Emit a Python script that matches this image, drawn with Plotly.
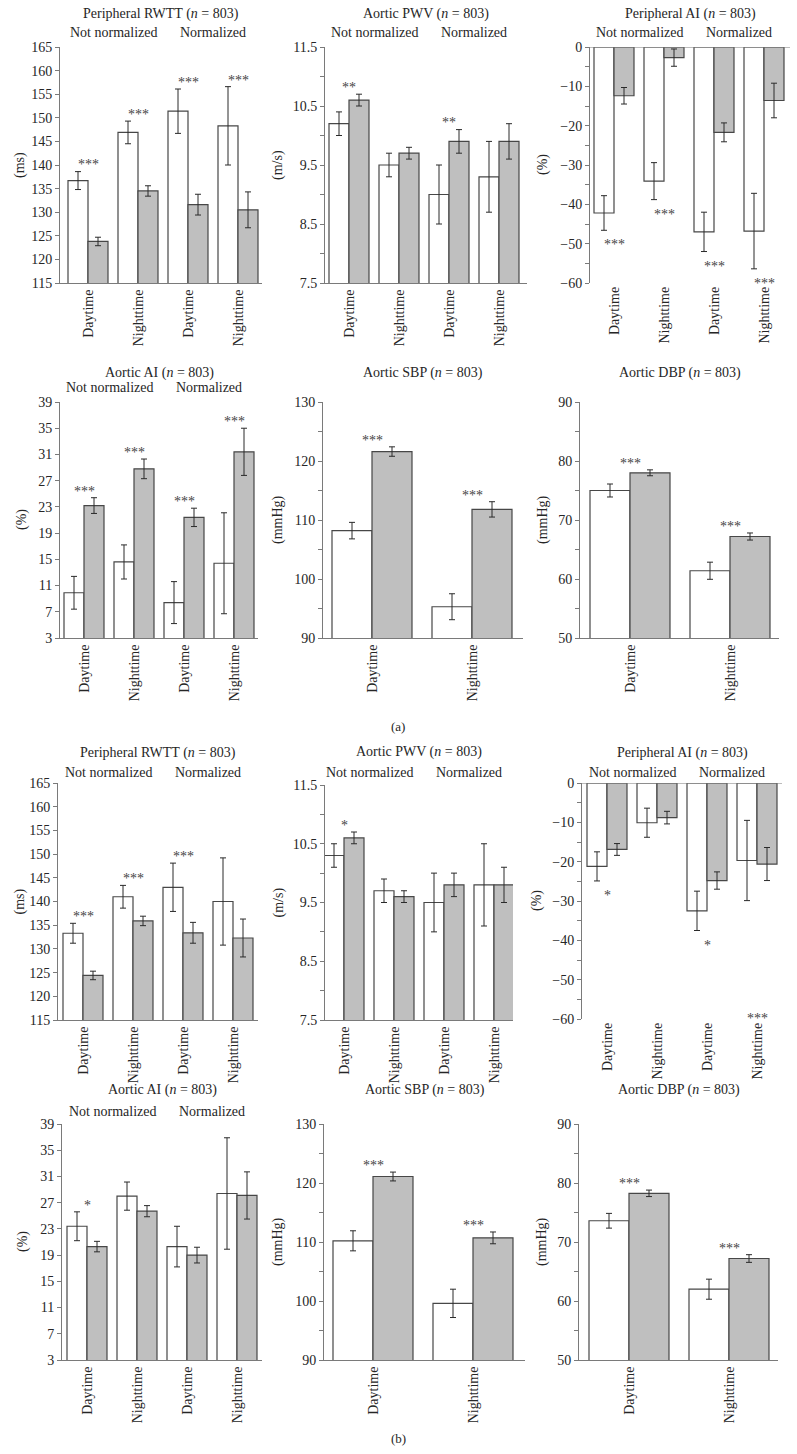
import plotly.graph_objects as go

W, H = 797, 1454

# ---------------- data ----------------
cats4 = ["Daytime", "Nighttime", "Daytime", "Nighttime"]
cats2 = ["Daytime", "Nighttime"]
group_labels = ["Not normalized", "Normalized"]

# ---- (a) ----
a_rwtt_white = [136.7, 146.9, 151.4, 148.3]
a_rwtt_white_err = [1.9, 2.4, 4.7, 8.3]
a_rwtt_grey = [123.8, 134.5, 131.6, 130.5]
a_rwtt_grey_err = [0.9, 1.1, 2.2, 3.8]
a_rwtt_sig = ["***", "***", "***", "***"]

a_pwv_white = [10.2, 9.5, 9.0, 9.3]
a_pwv_white_err = [0.2, 0.2, 0.5, 0.6]
a_pwv_grey = [10.6, 9.7, 9.9, 9.9]
a_pwv_grey_err = [0.1, 0.1, 0.2, 0.3]
a_pwv_sig = ["**", "", "**", ""]

a_pai_white = [-42.2, -34.1, -47.0, -46.8]
a_pai_white_err = [4.4, 4.7, 5.0, 9.6]
a_pai_grey = [-12.4, -2.7, -21.7, -13.6]
a_pai_grey_err = [2.1, 2.2, 2.4, 4.4]
a_pai_sig = ["***", "***", "***", "***"]

a_aai_white = [9.9, 14.6, 8.4, 14.4]
a_aai_white_err = [2.5, 2.6, 3.2, 7.7]
a_aai_grey = [23.2, 28.8, 21.4, 31.4]
a_aai_grey_err = [1.2, 1.5, 1.4, 3.6]
a_aai_sig = ["***", "***", "***", "***"]

a_sbp_white = [108.2, 95.3]
a_sbp_white_err = [1.4, 2.2]
a_sbp_grey = [121.6, 111.8]
a_sbp_grey_err = [0.8, 1.3]
a_sbp_sig = ["***", "***"]

a_dbp_white = [75.0, 61.4]
a_dbp_white_err = [1.1, 1.45]
a_dbp_grey = [78.0, 67.2]
a_dbp_grey_err = [0.5, 0.6]
a_dbp_sig = ["***", "***"]

# ---- (b) ----
b_rwtt_white = [133.3, 141.0, 143.0, 140.0]
b_rwtt_white_err = [2.1, 2.4, 5.1, 9.2]
b_rwtt_grey = [124.4, 135.9, 133.4, 132.3]
b_rwtt_grey_err = [0.9, 1.0, 2.2, 4.0]
b_rwtt_sig = ["***", "***", "***", ""]

b_pwv_white = [10.3, 9.7, 9.5, 9.8]
b_pwv_white_err = [0.2, 0.2, 0.5, 0.7]
b_pwv_grey = [10.6, 9.6, 9.8, 9.8]
b_pwv_grey_err = [0.1, 0.1, 0.2, 0.3]
b_pwv_sig = ["*", "", "", ""]

b_pai_white = [-21.2, -10.1, -32.5, -19.7]
b_pai_white_err = [3.7, 3.7, 5.0, 10.2]
b_pai_grey = [-16.9, -8.8, -24.8, -20.6]
b_pai_grey_err = [1.5, 1.6, 2.2, 4.2]
b_pai_sig = ["*", "", "*", "***"]

b_aai_white = [23.4, 28.0, 20.3, 28.4]
b_aai_white_err = [2.2, 2.15, 3.1, 8.5]
b_aai_grey = [20.3, 25.7, 19.0, 28.1]
b_aai_grey_err = [0.8, 0.85, 1.2, 3.6]
b_aai_sig = ["*", "", "", ""]

b_sbp_white = [110.2, 99.6]
b_sbp_white_err = [1.7, 2.4]
b_sbp_grey = [121.1, 110.7]
b_sbp_grey_err = [0.75, 1.0]
b_sbp_sig = ["***", "***"]

b_dbp_white = [73.6, 62.0]
b_dbp_white_err = [1.25, 1.7]
b_dbp_grey = [78.25, 67.2]
b_dbp_grey_err = [0.55, 0.65]
b_dbp_sig = ["***", "***"]

# ---------------- panel definitions ----------------
ttl = "({} = 803)".format("<i>n</i>")
panels = [
    dict(title="Peripheral RWTT " + ttl, unit="(ms)", cats=cats4, w=a_rwtt_white, we=a_rwtt_white_err,
         g=a_rwtt_grey, ge=a_rwtt_grey_err, sig=a_rwtt_sig, side="above",
         yr=[115, 165], dtick=5, minor=None),
    dict(title="Aortic PWV " + ttl, unit="(m/s)", cats=cats4, w=a_pwv_white, we=a_pwv_white_err,
         g=a_pwv_grey, ge=a_pwv_grey_err, sig=a_pwv_sig, side="above",
         yr=[7.5, 11.5], dtick=1, minor=0.5),
    dict(title="Peripheral AI " + ttl, unit="(%)", cats=cats4, w=a_pai_white, we=a_pai_white_err,
         g=a_pai_grey, ge=a_pai_grey_err, sig=a_pai_sig, side="below",
         yr=[-60, 0], dtick=10, minor=5),
    dict(title="Aortic AI " + ttl, unit="(%)", cats=cats4, w=a_aai_white, we=a_aai_white_err,
         g=a_aai_grey, ge=a_aai_grey_err, sig=a_aai_sig, side="above",
         yr=[3, 39], dtick=4, minor=None),
    dict(title="Aortic SBP " + ttl, unit="(mmHg)", cats=cats2, w=a_sbp_white, we=a_sbp_white_err,
         g=a_sbp_grey, ge=a_sbp_grey_err, sig=a_sbp_sig, side="above",
         yr=[90, 130], dtick=10, minor=5),
    dict(title="Aortic DBP " + ttl, unit="(mmHg)", cats=cats2, w=a_dbp_white, we=a_dbp_white_err,
         g=a_dbp_grey, ge=a_dbp_grey_err, sig=a_dbp_sig, side="above",
         yr=[50, 90], dtick=10, minor=5),
    dict(title="Peripheral RWTT " + ttl, unit="(ms)", cats=cats4, w=b_rwtt_white, we=b_rwtt_white_err,
         g=b_rwtt_grey, ge=b_rwtt_grey_err, sig=b_rwtt_sig, side="above",
         yr=[115, 165], dtick=5, minor=None),
    dict(title="Aortic PWV " + ttl, unit="(m/s)", cats=cats4, w=b_pwv_white, we=b_pwv_white_err,
         g=b_pwv_grey, ge=b_pwv_grey_err, sig=b_pwv_sig, side="above",
         yr=[7.5, 11.5], dtick=1, minor=0.5),
    dict(title="Peripheral AI " + ttl, unit="(%)", cats=cats4, w=b_pai_white, we=b_pai_white_err,
         g=b_pai_grey, ge=b_pai_grey_err, sig=b_pai_sig, side="below", floor_last=True,
         yr=[-60, 0], dtick=10, minor=5),
    dict(title="Aortic AI " + ttl, unit="(%)", cats=cats4, w=b_aai_white, we=b_aai_white_err,
         g=b_aai_grey, ge=b_aai_grey_err, sig=b_aai_sig, side="above",
         yr=[3, 39], dtick=4, minor=None),
    dict(title="Aortic SBP " + ttl, unit="(mmHg)", cats=cats2, w=b_sbp_white, we=b_sbp_white_err,
         g=b_sbp_grey, ge=b_sbp_grey_err, sig=b_sbp_sig, side="above",
         yr=[90, 130], dtick=10, minor=5),
    dict(title="Aortic DBP " + ttl, unit="(mmHg)", cats=cats2, w=b_dbp_white, we=b_dbp_white_err,
         g=b_dbp_grey, ge=b_dbp_grey_err, sig=b_dbp_sig, side="above",
         yr=[50, 90], dtick=10, minor=5),
]

# layout boxes in pixels: (x0, x1, ytop, ybottom), x range, title y, subtitle y, y-title x
boxes = [
    ((60, 262, 47, 283), [-0.56, 3.48], 14, 32, 20),
    ((325, 527, 47, 283), [-0.48, 3.56], 14, 32, 278),
    ((590, 790, 47, 283), [-0.48, 3.52], 14, 32, 543),
    ((60, 258, 402, 638), [-0.48, 3.48], 373, 388, 22),
    ((323, 523, 402, 638), [-0.49, 1.51], 373, 388, 278),
    ((580, 779, 402, 638), [-0.50, 1.49], 373, 388, 543),
    ((58, 258, 783, 1020), [-0.50, 3.50], 753, 772, 19),
    ((325, 513, 785, 1020), [-0.38, 3.38], 752, 772, 278),
    ((582, 782, 783, 1019), [-0.50, 3.50], 753, 772, 537),
    ((62, 262, 1124, 1360), [-0.50, 3.50], 1090, 1111, 23),
    ((324, 525, 1124, 1360), [-0.49, 1.52], 1090, 1111, 278),
    ((579, 778, 1124, 1360), [-0.50, 1.49], 1090, 1111, 542),
]

FONT = "Liberation Serif"
FS = 14
TXT = "#262626"
AXC = "#7a7a7a"
EDGE = "#474747"
GREY = "#bfbfbf"
ERRC = "#2a2a2a"

fig = go.Figure()
annotations = []
shapes = []

for i, (p, (box, xr, ty, sy, ytx)) in enumerate(zip(panels, boxes), start=1):
    sfx = "" if i == 1 else str(i)
    xa, ya = "x" + sfx, "y" + sfx
    n = len(p["cats"])
    xs = list(range(n))
    fig.add_trace(go.Bar(
        x=xs, y=p["w"], xaxis=xa, yaxis=ya, offsetgroup="w", showlegend=False,
        marker=dict(color="white", line=dict(color=EDGE, width=1.2)),
        error_y=dict(type="data", array=p["we"], color=ERRC, thickness=1, width=3)))
    fig.add_trace(go.Bar(
        x=xs, y=p["g"], xaxis=xa, yaxis=ya, offsetgroup="g", showlegend=False,
        marker=dict(color=GREY, line=dict(color=EDGE, width=1.2)),
        error_y=dict(type="data", array=p["ge"], color=ERRC, thickness=1, width=3)))

    x0, x1, yt, yb = box
    neg = p["yr"][1] <= 0
    fig.layout["xaxis" + sfx] = dict(
        domain=[x0 / W, x1 / W], range=xr, anchor=ya, tickmode="array",
        tickvals=xs, ticktext=p["cats"], tickangle=-90, showline=not neg,
        linecolor=AXC, linewidth=1, ticks="", showgrid=False, zeroline=False,
        automargin=False, fixedrange=True,
        tickfont=dict(family=FONT, size=FS, color=TXT))
    yax = dict(
        domain=[1 - yb / H, 1 - yt / H], range=p["yr"], anchor=xa,
        showline=True, linecolor=AXC, linewidth=1, ticks="outside", ticklen=4,
        tickcolor=AXC, tick0=p["yr"][0], dtick=p["dtick"], showgrid=False,
        zeroline=False, automargin=False, fixedrange=True,
        tickfont=dict(family=FONT, size=FS, color=TXT))
    if p["minor"]:
        yax["minor"] = dict(ticks="outside", ticklen=4, tickcolor=AXC,
                            tick0=p["yr"][0], dtick=p["minor"], showgrid=False)
    fig.layout["yaxis" + sfx] = yax

    if neg:
        shapes.append(dict(type="line", xref=xa + " domain", yref=ya, x0=0, x1=1,
                           y0=0, y1=0, line=dict(color=AXC, width=1)))

    # titles
    annotations.append(dict(text=p["title"], xref="paper", yref="paper",
                            x=(x0 + x1) / 2 / W, y=1 - ty / H, showarrow=False,
                            xanchor="center", yanchor="middle",
                            font=dict(family=FONT, size=FS, color=TXT)))
    if n == 4:
        for k, lab in enumerate(group_labels):
            annotations.append(dict(text=lab, xref=xa, yref="paper", x=0.5 + 2 * k,
                                    y=1 - sy / H, showarrow=False, xanchor="center",
                                    yanchor="middle",
                                    font=dict(family=FONT, size=FS, color=TXT)))
    # y title
    annotations.append(dict(text=p["unit"], xref="paper", yref="paper", x=ytx / W,
                            y=1 - (yt + yb) / 2 / H, showarrow=False, textangle=-90,
                            xanchor="center", yanchor="middle",
                            font=dict(family=FONT, size=FS, color=TXT)))
    # significance marks
    span = p["yr"][1] - p["yr"][0]
    for j, s in enumerate(p["sig"]):
        if not s:
            continue
        if p["side"] == "above":
            yv = max(p["w"][j] + p["we"][j], p["g"][j] + p["ge"][j]) + 0.045 * span
        else:
            yv = min(p["w"][j] - p["we"][j], p["g"][j] - p["ge"][j]) - 0.045 * span
            if p.get("floor_last") and j == n - 1:
                yv = p["yr"][0] + 0.02 * span
        annotations.append(dict(text=s, xref=xa, yref=ya, x=j, y=yv, showarrow=False,
                                xanchor="center", yanchor="middle", yshift=-4,
                                font=dict(family=FONT, size=FS, color="#444444")))

annotations.append(dict(text="(a)", xref="paper", yref="paper", x=398 / W, y=1 - 726 / H,
                        xanchor="center", yanchor="middle", showarrow=False,
                        font=dict(family=FONT, size=13, color=TXT)))
annotations.append(dict(text="(b)", xref="paper", yref="paper", x=398 / W, y=1 - 1438 / H,
                        xanchor="center", yanchor="middle", showarrow=False,
                        font=dict(family=FONT, size=13, color=TXT)))

fig.update_layout(
    template="none",
    width=W, height=H, margin=dict(l=0, r=0, t=0, b=0, pad=0), autosize=False,
    paper_bgcolor="white", plot_bgcolor="white",
    barmode="group", bargap=0.2, bargroupgap=0,
    annotations=annotations, shapes=shapes,
    font=dict(family=FONT, color=TXT),
)

fig.write_html("out.html", config={"displayModeBar": False},
               post_script="document.body.style.margin='0';document.body.style.overflow='hidden';")
